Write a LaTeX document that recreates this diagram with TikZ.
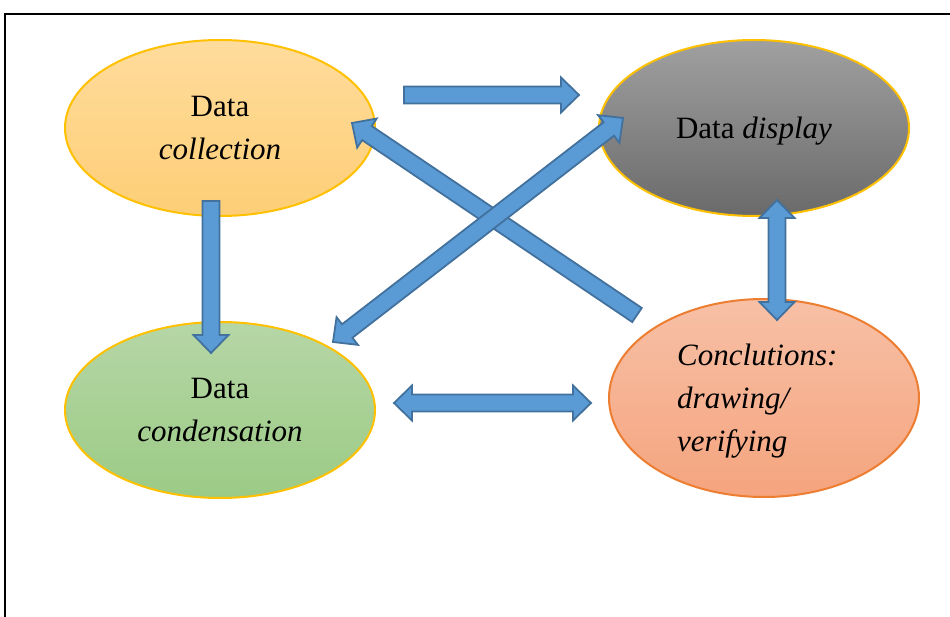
\documentclass[tikz,border=0pt]{standalone}
\usepackage{fontspec}
\setmainfont{Liberation Serif}[ItalicFont={Liberation Serif Italic}]
\usetikzlibrary{calc,shapes.geometric}
\definecolor{arrfill}{HTML}{5B9BD5}
\definecolor{arrline}{HTML}{41719C}
\definecolor{gold}{HTML}{FFC000}
\definecolor{orng}{HTML}{ED7D31}
\tikzset{
  blk/.style={fill=arrfill,draw=arrline,line width=1.8pt,line join=miter},
  oval/.style={ellipse,minimum width=310pt,minimum height=176pt,inner sep=0pt,line width=2pt,draw=gold,align=center,
    font=\fontsize{31}{43}\selectfont},
  lbl/.style={align=left,font=\fontsize{31}{43}\selectfont,inner sep=0pt}
}
\newcommand\myarrowS[2]{%
  \path ($(#2)!18pt!(#1)$) coordinate (hb);
  \draw[blk] ($(#1)!8.5pt!90:(#2)$) -- ($(hb)!8.5pt!90:(#2)$) -- ($(hb)!17.5pt!90:(#2)$) -- (#2)
    -- ($(hb)!17.5pt!-90:(#2)$) -- ($(hb)!8.5pt!-90:(#2)$) -- ($(#1)!8.5pt!-90:(#2)$) -- cycle;}
\newcommand\myarrowD[2]{%
  \path ($(#1)!18pt!(#2)$) coordinate (ha) ($(#2)!18pt!(#1)$) coordinate (hb);
  \draw[blk] (#1) -- ($(ha)!17.5pt!90:(#2)$) -- ($(ha)!8.5pt!90:(#2)$) -- ($(hb)!8.5pt!90:(#2)$)
    -- ($(hb)!17.5pt!90:(#2)$) -- (#2) -- ($(hb)!17.5pt!-90:(#2)$) -- ($(hb)!8.5pt!-90:(#2)$)
    -- ($(ha)!8.5pt!-90:(#2)$) -- ($(ha)!17.5pt!-90:(#2)$) -- cycle;}
\begin{document}
\begin{tikzpicture}[x=1pt,y=-1pt]
\useasboundingbox (0,0) rectangle (950,617);
% frame
\draw[line width=2pt] (950,14) -- (5,14) -- (5,617);
% ellipses
\node[oval,top color={rgb,255:red,255;green,220;blue,156},bottom color={rgb,255:red,253;green,206;blue,118}] (coll) at (220,128) {Data\\\textit{collection}};
\node[oval,top color={rgb,255:red,160;green,160;blue,160},bottom color={rgb,255:red,106;green,106;blue,106}] (disp) at (754,128) {};
\node[lbl] (dispt) at (754,131) {Data \textit{display}};
\node[oval,top color={rgb,255:red,182;green,214;blue,166},bottom color={rgb,255:red,155;green,203;blue,133}] (cond) at (220,410) {Data\\\textit{condensation}};
\node[oval,draw=orng,minimum width=310pt,minimum height=198pt,top color={rgb,255:red,247;green,192;blue,166},bottom color={rgb,255:red,245;green,164;blue,126}] (conc) at (764,398) {};
\node[lbl,anchor=west] (conct) at (677,401) {\textit{Conclutions:}\\\textit{drawing/}\\\textit{verifying}};
% arrow end points
\coordinate (a1s) at (404,95);  \coordinate (a1e) at (579,95);
\coordinate (a2s) at (211,201); \coordinate (a2e) at (211,353);
\coordinate (a3s) at (777,200); \coordinate (a3e) at (777,320);
\coordinate (a4s) at (394,403); \coordinate (a4e) at (591,403);
\coordinate (a5s) at (637,315); \coordinate (a5e) at (352,123);
\coordinate (a6s) at (333,342); \coordinate (a6e) at (623,118);
% arrows
\myarrowS{a1s}{a1e}
\myarrowS{a2s}{a2e}
\myarrowD{a3s}{a3e}
\myarrowD{a4s}{a4e}
\myarrowS{a5s}{a5e}
\myarrowD{a6s}{a6e}
\end{tikzpicture}
\end{document}
